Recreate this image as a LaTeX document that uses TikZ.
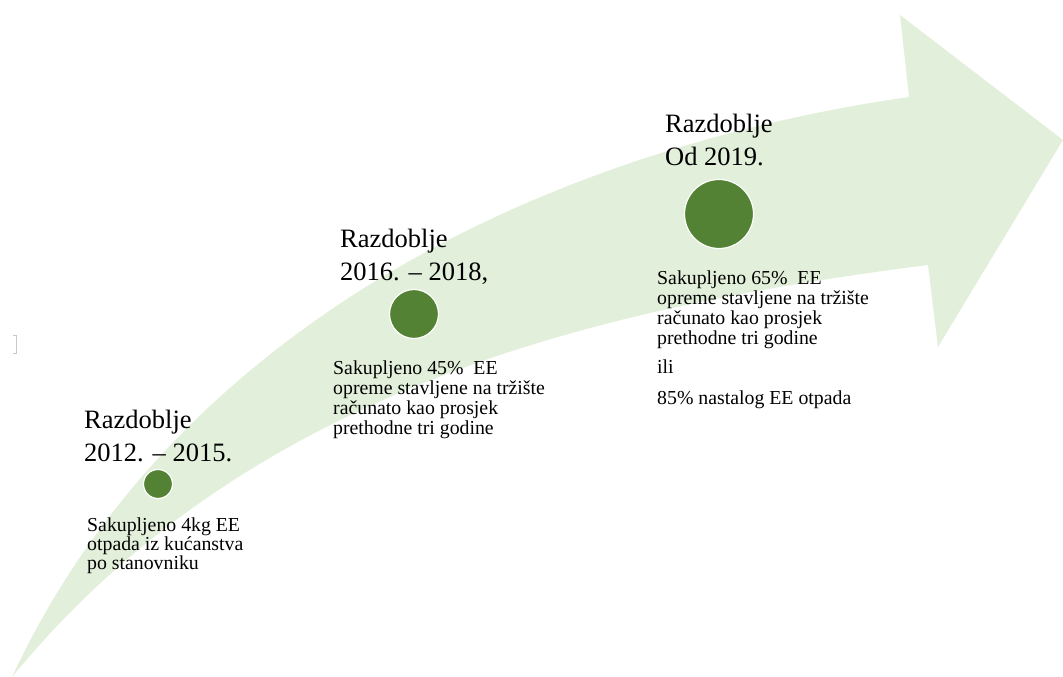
\documentclass[tikz,border=0pt]{standalone}
\usepackage{fontspec}
\setmainfont{Liberation Serif}
\definecolor{arrowfill}{HTML}{E2EFDA}
\definecolor{dotgreen}{HTML}{548235}
\definecolor{markgray}{HTML}{C8C8C8}
\begin{document}
\begin{tikzpicture}[x=1pt,y=1pt,
  dot/.style={circle, fill=dotgreen, draw=white, line width=1.2pt, inner sep=0pt},
  title/.style={anchor=base west, inner sep=0pt, font=\fontsize{26.5}{33}\selectfont},
  body/.style={anchor=base west, inner sep=0pt, font=\fontsize{19.8}{20}\selectfont}]
\useasboundingbox (0,0) rectangle (1063,677);
% curved arrow
\fill[arrowfill]
  (12,0) .. controls (180,360) and (560,530) .. (909,580)
  -- (900,662) -- (1063,537) -- (938,330) -- (928,412)
  .. controls (600,370) and (250,290) .. (12,0)
  -- cycle;
% small mark at left
\draw[markgray, line width=0.8pt] (13,342) -- (16.5,342) -- (16.5,324) -- (13,324);
% dots
\node[dot, minimum size=29pt] (c1) at (158,193) {};
\node[dot, minimum size=49pt] (c2) at (414,363) {};
\node[dot, minimum size=69pt] (c3) at (719,463) {};
% titles
\node[title] (t1) at (84,248) {\vtop{\baselineskip=33pt\hbox{Razdoblje}\hbox{2012. – 2015.}}};
\node[title] (t2) at (340,429) {\vtop{\baselineskip=33pt\hbox{Razdoblje}\hbox{2016. – 2018,}}};
\node[title] (t3) at (665,544) {\vtop{\baselineskip=33pt\hbox{Razdoblje}\hbox{Od 2019.}}};
% bodies
\node[body] (b1) at (87,145) {\vtop{\baselineskip=19pt\hbox{Sakupljeno 4kg EE}\hbox{otpada iz kućanstva}\hbox{po stanovniku}}};
\node[body] (b2) at (333,302) {\vtop{\baselineskip=20pt\hbox{Sakupljeno 45\%\ \ EE}\hbox{opreme stavljene na tržište}\hbox{računato kao prosjek}\hbox{prethodne tri godine}}};
\node[body] (b3) at (657,392) {\vtop{\baselineskip=20pt\hbox{Sakupljeno 65\%\ \ EE}\hbox{opreme stavljene na tržište}\hbox{računato kao prosjek}\hbox{prethodne tri godine}\vskip 9pt\hbox{ili}\vskip 11pt\hbox{85\% nastalog EE otpada}}};
\end{tikzpicture}
\end{document}
